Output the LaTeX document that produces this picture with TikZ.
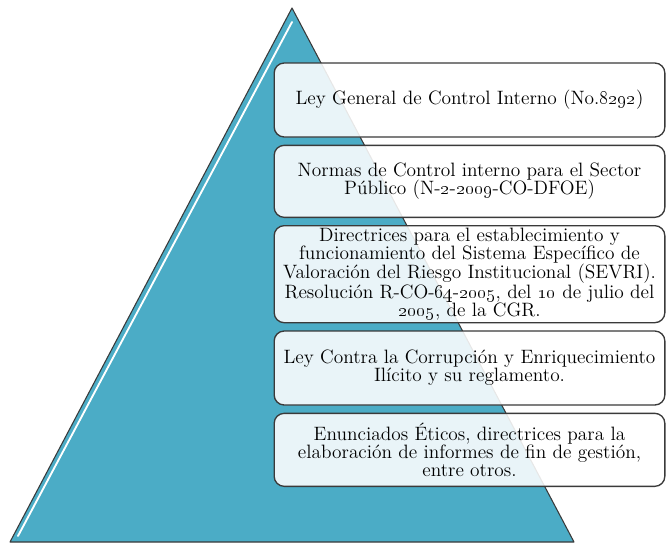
\documentclass[tikz,border=0pt]{standalone}
\usetikzlibrary{positioning}
\definecolor{aqua}{HTML}{4BACC6}
\definecolor{rim}{HTML}{3A3A3A}
\tikzset{
  level/.style={draw=rim, line width=1pt, rounded corners=7.5pt,
    fill=white, fill opacity=0.88, text opacity=1,
    minimum width=293pt, inner sep=1.5pt, align=center,
    font=\fontsize{14.5}{13.7}\selectfont},
}
\begin{document}
\begin{tikzpicture}[x=0.75pt,y=-0.75pt]
  \useasboundingbox (0,0) rectangle (666,543);

  % Coordinates
  \coordinate (apex) at (292,8);
  \coordinate (baseL) at (10,542);
  \coordinate (baseR) at (574,542);

  % Pyramid, with a light rim along its left face
  \draw[rim, line width=0.8pt, fill=aqua, line join=round]
    (apex) -- (baseR) -- (baseL) -- cycle;
  \draw[white, line width=1.4pt, line cap=round] (apex) ++(0,14) -- (18,536);

  % levels, from the top down
  \node[level, minimum height=55.5pt] (ley) at (469.5,100)
    {Ley General de Control Interno (No.\oldstylenums{8292})};
  \node[level, minimum height=54pt, below=5.25pt of ley] (normas)
    {Normas de Control interno para el Sector\\
     Público (N-\oldstylenums{2}-\oldstylenums{2009}-CO-DFOE)};
  \node[level, minimum height=72.75pt, below=5.25pt of normas] (sevri)
    {Directrices para el establecimiento y\\
     funcionamiento del Sistema Específico de\\
     Valoración del Riesgo Institucional (SEVRI).\\
     Resolución R-CO-\oldstylenums{64}-\oldstylenums{2005}, del \oldstylenums{10} de julio del\\
     \oldstylenums{2005}, de la CGR.};
  \node[level, minimum height=55.5pt, below=5.25pt of sevri] (corrupcion)
    {Ley Contra la Corrupción y Enriquecimiento\\
     Ilícito y su reglamento.};
  \node[level, minimum height=54.75pt, below=5.25pt of corrupcion] (eticos)
    {Enunciados Éticos, directrices para la\\
     elaboración de informes de fin de gestión,\\
     entre otros.};

\end{tikzpicture}
\end{document}
